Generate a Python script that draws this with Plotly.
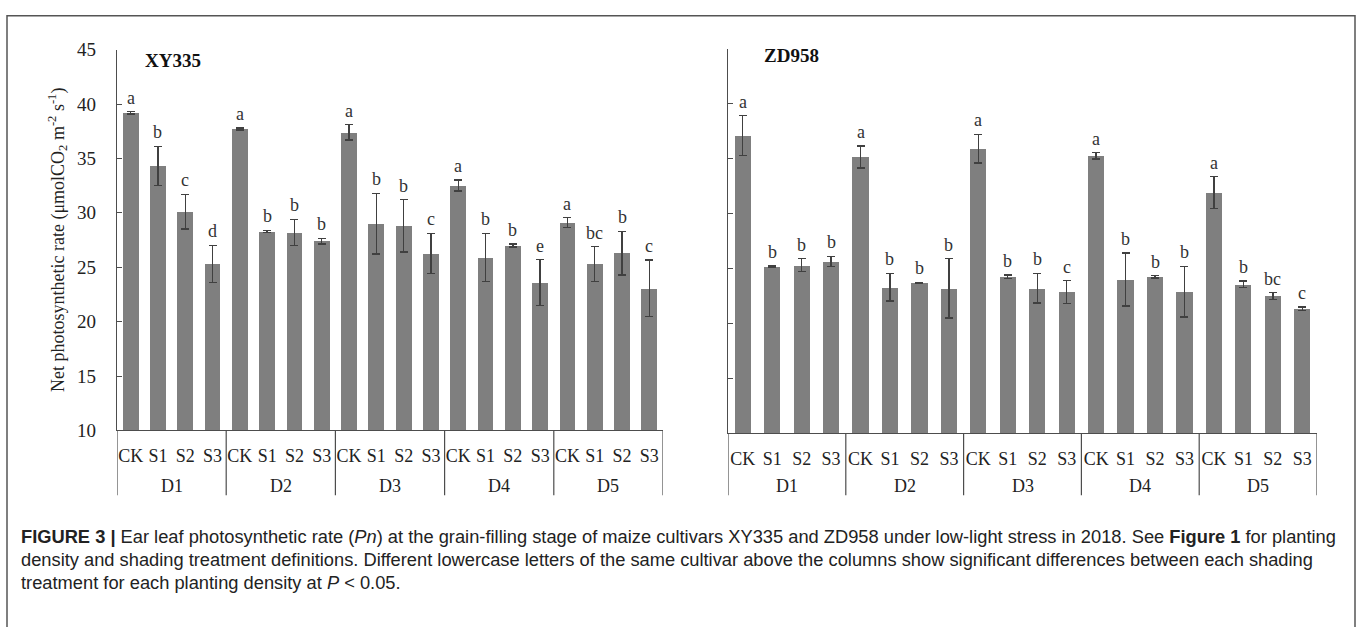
import plotly.graph_objects as go

W, H = 1357, 627

treatments = ["CK", "S1", "S2", "S3"]
densities = ["D1", "D2", "D3", "D4", "D5"]

xy335_mean = [39.2, 34.3, 30.1, 25.3,
              37.7, 28.3, 28.2, 27.4,
              37.4, 29.0, 28.8, 26.25,
              32.5, 25.9, 27.0, 23.6,
              29.1, 25.3, 26.3, 23.05]
xy335_err = [0.1, 1.8, 1.6, 1.7,
             0.1, 0.1, 1.2, 0.25,
             0.7, 2.8, 2.4, 1.85,
             0.5, 2.2, 0.15, 2.1,
             0.45, 1.6, 2.0, 2.6]
xy335_letters = ["a", "b", "c", "d",
                 "a", "b", "b", "b",
                 "a", "b", "b", "c",
                 "a", "b", "b", "e",
                 "a", "bc", "b", "c"]

zd958_mean = [37.1, 25.2, 25.3, 25.65,
              35.15, 23.3, 23.7, 23.2,
              35.9, 24.25, 23.2, 22.85,
              35.25, 24.0, 24.25, 22.9,
              31.9, 23.55, 22.5, 21.35]
zd958_err = [1.8, 0.05, 0.6, 0.45,
             1.0, 1.25, 0.05, 2.7,
             1.3, 0.15, 1.35, 1.05,
             0.3, 2.4, 0.1, 2.3,
             1.45, 0.3, 0.3, 0.15]
zd958_letters = ["a", "b", "b", "b",
                 "a", "b", "b", "b",
                 "a", "b", "b", "c",
                 "a", "b", "b", "b",
                 "a", "b", "bc", "c"]

y_ticks = [10, 15, 20, 25, 30, 35, 40, 45]

SERIF = "Liberation Serif"
SANS = "Liberation Sans"
BAR = "#7f7f7f"
ERR = "#404040"
LINE = "#4d4d4d"

cats = [t for d in densities for t in treatments]
xpos = list(range(len(cats)))


def px_x(p):
    return p / W


def px_y(p):
    return 1 - p / H


fig = go.Figure()

panels = [
    ("x", "y", xy335_mean, xy335_err, xy335_letters, 0.58),
    ("x2", "y2", zd958_mean, zd958_err, zd958_letters, 0.55),
]
for xa, ya, mean, err, letters, bw in panels:
    fig.add_trace(go.Bar(
        x=xpos, y=mean, xaxis=xa, yaxis=ya, width=bw,
        marker=dict(color=BAR, line=dict(width=0)),
        error_y=dict(type="data", array=err, color=ERR, thickness=1.4, width=4),
        showlegend=False, hoverinfo="skip",
    ))
    for i, (m, e, lt) in enumerate(zip(mean, err, letters)):
        fig.add_annotation(x=i, y=m + e, xref=xa, yref=ya, text=lt,
                           showarrow=False, yanchor="bottom", yshift=2,
                           font=dict(family=SERIF, size=18, color="#333333"))

left_dom_x = [px_x(117), px_x(663)]
right_dom_x = [px_x(728), px_x(1317)]
left_dom_y = [px_y(435), px_y(41)]
right_dom_y = [px_y(438), px_y(40)]

xcommon = dict(range=[-0.5, 19.5], tickvals=xpos, ticktext=cats, ticks="",
               showline=True, linecolor=LINE, linewidth=1.2, showgrid=False,
               zeroline=False, fixedrange=True, ticklabelstandoff=9,
               tickfont=dict(family=SERIF, size=18, color="#222222"))
ycommon = dict(range=[10, 45], tickvals=y_ticks, ticks="inside", ticklen=5,
               tickcolor=LINE, showline=True, linecolor=LINE, linewidth=1.2,
               showgrid=False, zeroline=False, fixedrange=True,
               tickfont=dict(family=SERIF, size=19, color="#222222"))

fig.update_layout(
    width=W, height=H, margin=dict(l=0, r=0, t=0, b=0),
    paper_bgcolor="white", plot_bgcolor="white",
    xaxis=dict(domain=left_dom_x, anchor="y", **xcommon),
    yaxis=dict(domain=left_dom_y, anchor="x", showticklabels=True,
               ticklabelstandoff=16, **ycommon),
    xaxis2=dict(domain=right_dom_x, anchor="y2", **xcommon),
    yaxis2=dict(domain=right_dom_y, anchor="x2", showticklabels=False, **ycommon),
    bargap=0,
)

# group dividers and density labels
for xa, dom_y in (("x", left_dom_y), ("x2", right_dom_y)):
    for k in range(len(densities) + 1):
        fig.add_shape(type="line", xref=xa, yref="paper",
                      x0=k * 4 - 0.5, x1=k * 4 - 0.5, y0=dom_y[0], y1=px_y(502),
                      line=dict(color=LINE, width=1.2))
    for k, d in enumerate(densities):
        fig.add_annotation(x=k * 4 + 1.5, y=px_y(492), xref=xa, yref="paper",
                           text=d, showarrow=False, yanchor="middle",
                           font=dict(family=SERIF, size=18, color="#222222"))

# panel titles
fig.add_annotation(x=px_x(143), y=px_y(52), xref="paper", yref="paper",
                   text="<b>XY335</b>", showarrow=False, xanchor="left",
                   yanchor="middle", font=dict(family=SERIF, size=19, color="#111111"))
fig.add_annotation(x=px_x(762), y=px_y(47), xref="paper", yref="paper",
                   text="<b>ZD958</b>", showarrow=False, xanchor="left",
                   yanchor="middle", font=dict(family=SERIF, size=19, color="#111111"))

# y-axis title
fig.add_annotation(x=px_x(57), y=px_y(238), xref="paper", yref="paper",
                   text="Net photosynthetic rate (μmolCO<sub>2</sub> m<sup>-2</sup> s<sup>-1</sup>)",
                   showarrow=False, textangle=-90, xanchor="center", yanchor="middle",
                   font=dict(family=SERIF, size=18, color="#222222"))

# outer frame
fig.add_shape(type="rect", xref="paper", yref="paper",
              x0=px_x(7), x1=px_x(1355), y0=-0.02, y1=px_y(6),
              line=dict(color="#555555", width=1.5))

# caption
caption_lines = [
    "<b>FIGURE 3 |</b> Ear leaf photosynthetic rate (<i>Pn</i>) at the grain-filling stage of maize cultivars XY335 and ZD958 under low-light stress in 2018. See <b>Figure 1</b> for planting",
    "density and shading treatment definitions. Different lowercase letters of the same cultivar above the columns show significant differences between each shading",
    "treatment for each planting density at <i>P</i> &lt; 0.05.",
]
for j, line in enumerate(caption_lines):
    fig.add_annotation(x=px_x(19), y=px_y(545 + 23.5 * j), xref="paper", yref="paper",
                       text=line, showarrow=False, xanchor="left", yanchor="middle",
                       font=dict(family=SANS, size=18.3, color="#222222"))

fig.write_html("out.html")
